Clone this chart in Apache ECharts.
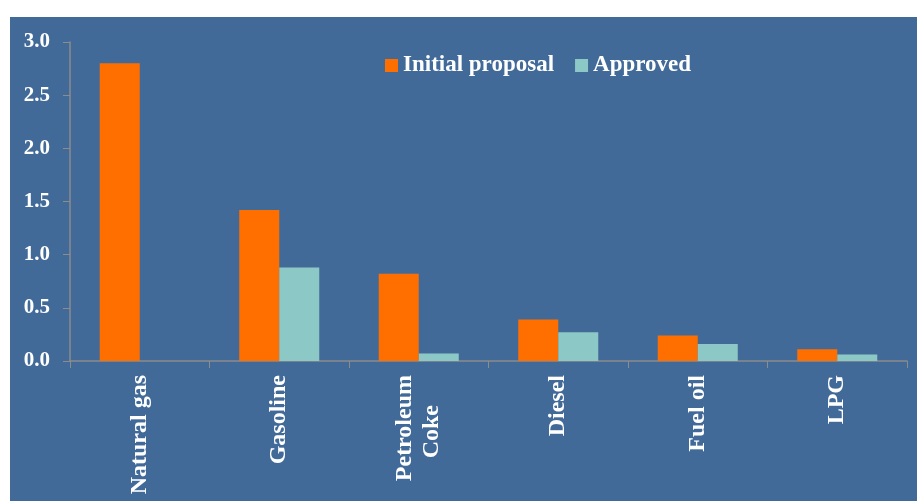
<!DOCTYPE html>
<html>
<head>
<meta charset="utf-8">
<script src="https://cdn.jsdelivr.net/npm/echarts@6/dist/echarts.min.js"></script>
<style>
html,body{margin:0;padding:0;background:#ffffff;width:917px;height:501px;overflow:hidden;}
#c{position:absolute;left:10px;top:17px;width:907px;height:484px;}
</style>
</head>
<body>
<div id="c"></div>
<script>
const categories = ['Natural gas', 'Gasoline', 'Petroleum\nCoke', 'Diesel', 'Fuel oil', 'LPG'];
const initialProposal = [2.80, 1.42, 0.82, 0.39, 0.24, 0.11];
const approved = [0, 0.88, 0.07, 0.27, 0.16, 0.06];
const yTicks = [0, 0.5, 1.0, 1.5, 2.0, 2.5, 3.0];

const chart = echarts.init(document.getElementById('c'));
const font = '"Liberation Serif", "DejaVu Serif", serif';
// centre the shorter line of a two-line rotated label under the longer one
function centreLines(label) {
  const lines = label.split('\n');
  if (lines.length < 2) return label;
  const maxLen = Math.max(...lines.map(l => l.length));
  return lines.map(l => l + '\u00a0'.repeat(Math.round((maxLen - l.length) * 0.9))).join('\n');
}
chart.setOption({
  backgroundColor: '#426A99',
  animation: false,
  legend: {
    left: 370, top: 32,
    itemWidth: 13, itemHeight: 13, itemGap: 21,
    icon: 'rect',
    textStyle: {color: '#ffffff', fontFamily: font, fontWeight: 'bold', fontSize: 23, padding: [0, 0, 0, 0]},
    data: ['Initial proposal', 'Approved']
  },
  grid: {left: 60, top: 25, right: 10, bottom: 140},
  xAxis: {
    type: 'category',
    data: categories,
    axisLine: {lineStyle: {color: '#8c8c8c', width: 1.5}},
    axisTick: {show: true, length: 7, lineStyle: {color: '#8c8c8c'}},
    axisLabel: {
      rotate: 90, interval: 0, margin: 14,
      color: '#ffffff', fontFamily: font, fontWeight: 'bold', fontSize: 24, lineHeight: 27,
      formatter: centreLines
    }
  },
  yAxis: {
    type: 'value', min: 0, max: 3, interval: 0.5,
    axisLine: {show: true, lineStyle: {color: '#8c8c8c', width: 1.5}},
    axisTick: {show: true, length: 7, lineStyle: {color: '#8c8c8c'}},
    splitLine: {show: false},
    axisLabel: {
      margin: 20, color: '#ffffff', fontFamily: font, fontWeight: 'bold', fontSize: 21,
      formatter: v => v.toFixed(1)
    }
  },
  series: [
    {name: 'Initial proposal', type: 'bar', data: initialProposal, barWidth: 40, barGap: '0%',
     itemStyle: {color: '#FF6F00'}},
    {name: 'Approved', type: 'bar', data: approved, barWidth: 40,
     itemStyle: {color: '#8CC8C6'}}
  ]
});
</script>
</body>
</html>
